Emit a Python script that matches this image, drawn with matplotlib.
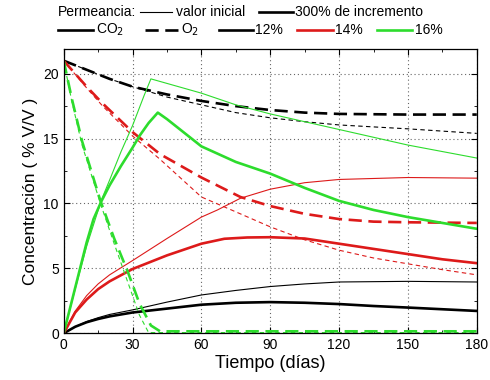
import matplotlib
matplotlib.use("Agg")
import matplotlib.pyplot as plt
from matplotlib.lines import Line2D
from matplotlib.ticker import MultipleLocator

plt.rcParams['font.family'] = ['Liberation Sans', 'DejaVu Sans']

# ---- data (days, % V/V) ----
# 12% CO2
co2_12_ini_t = [0, 5, 10, 15, 20, 30, 45, 60, 75, 90, 105, 120, 150, 180]
co2_12_ini_v = [0, 0.5, 0.9, 1.2, 1.45, 1.8, 2.4, 2.95, 3.3, 3.6, 3.8, 3.95, 4.0, 3.95]
co2_12_inc_t = [0, 5, 10, 15, 20, 30, 45, 60, 75, 90, 105, 120, 135, 150, 165, 180]
co2_12_inc_v = [0, 0.5, 0.85, 1.1, 1.3, 1.6, 1.9, 2.2, 2.35, 2.4, 2.35, 2.25, 2.1, 1.98, 1.85, 1.72]
# 12% O2
o2_12_ini_t = [0, 10, 20, 30, 45, 60, 75, 90, 105, 120, 150, 180]
o2_12_ini_v = [21, 20.3, 19.6, 19.0, 18.2, 17.6, 17.0, 16.6, 16.3, 16.05, 15.75, 15.4]
o2_12_inc_t = [0, 10, 20, 30, 45, 60, 75, 90, 105, 120, 150, 180]
o2_12_inc_v = [21, 20.3, 19.6, 19.0, 18.4, 17.9, 17.5, 17.2, 17.0, 16.9, 16.85, 16.85]

# 14% CO2
co2_14_ini_t = [0, 5, 10, 15, 20, 30, 45, 60, 67, 77, 90, 105, 120, 150, 180]
co2_14_ini_v = [0, 1.7, 2.9, 3.8, 4.5, 5.6, 7.3, 8.95, 9.5, 10.4, 11.1, 11.6, 11.85, 12.0, 11.95]
co2_14_inc_t = [0, 5, 10, 15, 20, 30, 45, 60, 70, 80, 90, 105, 120, 135, 150, 165, 180]
co2_14_inc_v = [0, 1.6, 2.6, 3.4, 4.0, 4.95, 6.0, 6.9, 7.28, 7.38, 7.4, 7.3, 6.9, 6.5, 6.1, 5.7, 5.4]
# 14% O2
o2_14_ini_t = [0, 10, 17, 30, 42, 60, 77, 90, 105, 120, 135, 150, 165, 180]
o2_14_ini_v = [21, 18.9, 17.5, 15.2, 13.4, 10.5, 9.2, 8.2, 7.2, 6.4, 5.8, 5.35, 4.9, 4.5]
o2_14_inc_t = [0, 10, 17, 30, 42, 60, 77, 90, 105, 120, 135, 150, 180]
o2_14_inc_v = [21, 19.0, 17.7, 15.5, 13.8, 12.0, 10.5, 9.8, 9.2, 8.8, 8.6, 8.55, 8.5]

# 16% CO2
co2_16_ini_t = [0, 5, 10, 16.5, 20, 25, 30, 35, 38, 40, 50, 60, 75, 90, 105, 120, 135, 150, 165, 180]
co2_16_ini_v = [0, 3.4, 6.7, 10.3, 11.8, 14.0, 16.0, 18.3, 19.6, 19.5, 19.0, 18.5, 17.6, 16.9, 16.3, 15.7, 15.1, 14.5, 14.0, 13.5]
co2_16_inc_t = [0, 5, 10, 13, 16.5, 20, 25, 30, 33, 37, 41, 45, 50, 60, 75, 90, 105, 120, 135, 150, 165, 180]
co2_16_inc_v = [0, 3.5, 7.0, 8.8, 10.2, 11.4, 12.9, 14.3, 15.2, 16.2, 17.0, 16.5, 15.8, 14.4, 13.2, 12.3, 11.2, 10.2, 9.5, 8.95, 8.5, 8.05]
# 16% O2
o2_16_ini_t = [0, 3.5, 8, 16, 22, 28, 33, 37, 60, 120, 180]
o2_16_ini_v = [21, 17.9, 14.5, 10.0, 6.9, 3.9, 1.4, 0.05, 0.05, 0.05, 0.05]
o2_16_inc_t = [0, 3.5, 8, 16, 22, 28, 33, 38, 42, 60, 120, 180]
o2_16_inc_v = [21, 18.1, 14.8, 10.2, 7.3, 4.7, 2.3, 0.6, 0.15, 0.15, 0.15, 0.15]

black = 'black'
red = '#dd1a1a'
green = '#2ddc2d'
thin = 0.8
thick = 1.9
dash_thick = (5, 2.5)
dash_thin = (4, 3)

fig = plt.figure(figsize=(4.9, 3.8), dpi=100)
ax = fig.add_axes([0.130, 0.123, 0.843, 0.748])

series = [
    (co2_12_ini_t, co2_12_ini_v, black, thin, None),
    (co2_12_inc_t, co2_12_inc_v, black, thick, None),
    (o2_12_ini_t, o2_12_ini_v, black, thin, dash_thin),
    (o2_12_inc_t, o2_12_inc_v, black, thick, dash_thick),
    (co2_14_ini_t, co2_14_ini_v, red, thin, None),
    (co2_14_inc_t, co2_14_inc_v, red, thick, None),
    (o2_14_ini_t, o2_14_ini_v, red, thin, dash_thin),
    (o2_14_inc_t, o2_14_inc_v, red, thick, dash_thick),
    (co2_16_ini_t, co2_16_ini_v, green, thin, None),
    (co2_16_inc_t, co2_16_inc_v, green, thick, None),
    (o2_16_ini_t, o2_16_ini_v, green, thin, dash_thin),
    (o2_16_inc_t, o2_16_inc_v, green, thick, dash_thick),
]
for t, v, c, lw, dash in series:
    line, = ax.plot(t, v, color=c, lw=lw)
    if dash is not None:
        line.set_dashes(dash)

ax.set_xlim(0, 180)
ax.set_ylim(0, 21.9)
ax.xaxis.set_major_locator(MultipleLocator(30))
ax.xaxis.set_minor_locator(MultipleLocator(15))
ax.yaxis.set_major_locator(MultipleLocator(5))
ax.yaxis.set_minor_locator(MultipleLocator(2.5))
ax.tick_params(which='both', direction='in', top=True, right=True, labelsize=10)
ax.tick_params(which='major', length=4)
ax.tick_params(which='minor', length=2.5)
ax.grid(True, which='major', linestyle=(0, (1, 2.5)), color='#666666', lw=0.8)
ax.set_xlabel('Tiempo (días)', fontsize=13, labelpad=2)
ax.set_ylabel('Concentración ( % V/V )', fontsize=12.5, labelpad=4)
for s in ax.spines.values():
    s.set_linewidth(0.9)

# ---- legend drawn at the top ----
def px(x, y):
    return x / 490.0, 1 - y / 380.0

def leg_line(x0, x1, y, color, lw, dash=None):
    (a, b), (c, _) = px(x0, y), px(x1, y)
    ln = Line2D([a, c], [b, b], color=color, lw=lw, transform=fig.transFigure)
    if dash is not None:
        ln.set_dashes(dash)
    fig.add_artist(ln)

def leg_text(x, y, s):
    a, b = px(x, y)
    fig.text(a, b, s, fontsize=10, va='center', ha='left')

y1, y2 = 12, 30
leg_text(58, y1, 'Permeancia:')
leg_line(140, 172, y1, black, thin)
leg_text(176, y1, 'valor inicial')
leg_line(259, 293, y1, black, thick)
leg_text(295, y1, '300% de incremento')

leg_line(58, 93, y2, black, thick)
leg_text(96, y2, 'CO$_2$')
leg_line(145, 178, y2, black, thick, dash_thick)
leg_text(181, y2, 'O$_2$')
leg_line(219, 253, y2, black, thick)
leg_text(255, y2, '12%')
leg_line(297, 333, y2, red, thick)
leg_text(335, y2, '14%')
leg_line(377, 412, y2, green, thick)
leg_text(415, y2, '16%')

fig.savefig('out.png', dpi=100)
